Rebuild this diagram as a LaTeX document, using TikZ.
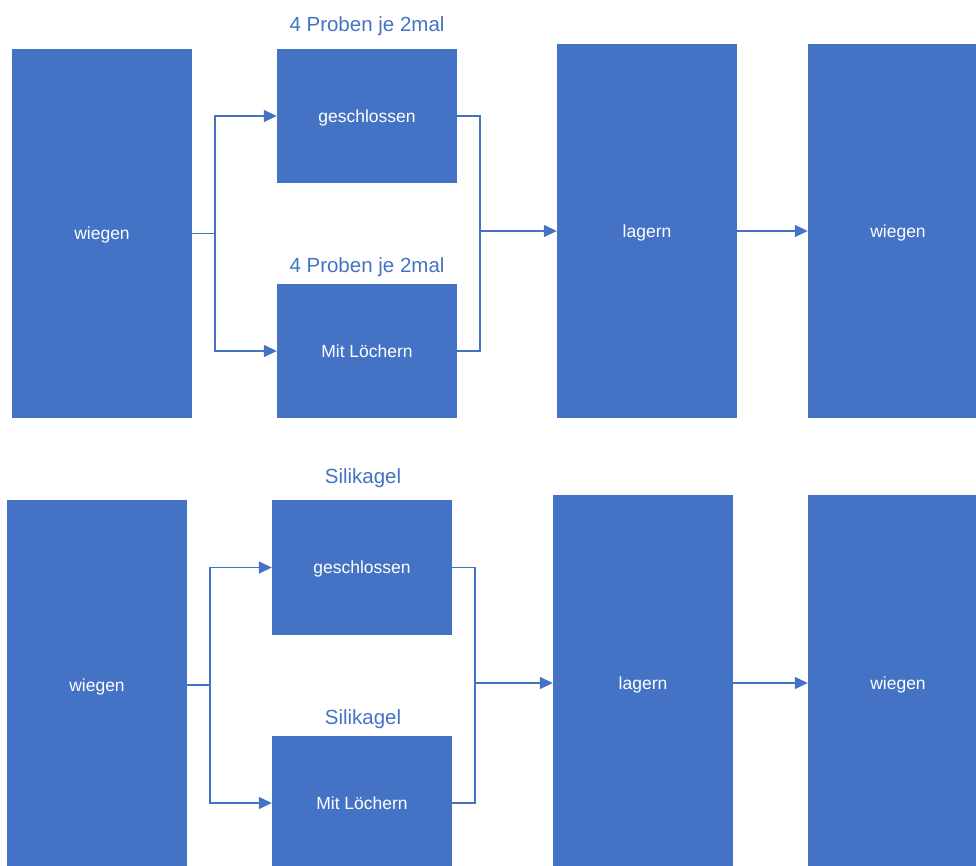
\documentclass[tikz,border=0pt]{standalone}
\usepackage{fontspec}
\setmainfont{Liberation Sans}
\usetikzlibrary{arrows.meta}
\definecolor{ofblue}{RGB}{68,114,196}
\tikzset{
  box/.style={draw=none, fill=ofblue, text=white, minimum width=180pt, inner sep=0pt, text height=12.6pt, text depth=0pt, font=\fontsize{17.5}{20}\selectfont},
  lbl/.style={text=ofblue, inner sep=0pt, text height=14.8pt, text depth=0pt, font=\fontsize{20.5}{24}\selectfont},
  conn/.style={draw=ofblue, line width=1.5pt},
  arr/.style={conn, -{Triangle[length=13pt,width=12pt]}}
}
\begin{document}
\begin{tikzpicture}[x=1pt,y=-1pt]
\useasboundingbox (0,0) rectangle (976,865);
\clip (0,0) rectangle (976,865);
% top row
\node[box, minimum height=369pt] (w1) at (102,233.5) {wiegen};
\node[box, minimum height=134pt] (g1) at (367,116) {geschlossen};
\node[box, minimum height=134pt] (m1) at (367,351) {Mit Löchern};
\node[box, minimum height=374pt] (l1) at (647,231) {lagern};
\node[box, minimum height=374pt] (r1) at (898,231) {wiegen};
\node[lbl] (t1) at (367,24) {4 Proben je 2mal};
\node[lbl] (t2) at (367,265) {4 Proben je 2mal};
\coordinate (s1) at (215,233.5);
\coordinate (j1) at (480,231);
\draw[conn] (w1.east) -- (s1);
\draw[arr] (s1) |- (g1.west);
\draw[arr] (s1) |- (m1.west);
\draw[conn] (g1.east) -| (j1);
\draw[conn] (m1.east) -| (j1);
\draw[arr] (j1) -- (l1.west);
\draw[arr] (l1.east) -- (r1.west);
% bottom row
\node[box, minimum height=370pt] (w2) at (97,685) {wiegen};
\node[box, minimum height=135pt] (g2) at (362,567.5) {geschlossen};
\node[box, minimum height=134pt] (m2) at (362,803) {Mit Löchern};
\node[box, minimum height=376pt] (l2) at (643,683) {lagern};
\node[box, minimum height=376pt] (r2) at (898,683) {wiegen};
\node[lbl] (t3) at (363,476) {Silikagel};
\node[lbl] (t4) at (363,717) {Silikagel};
\coordinate (s2) at (210,685);
\coordinate (j2) at (475,683);
\draw[conn] (w2.east) -- (s2);
\draw[arr] (s2) |- (g2.west);
\draw[arr] (s2) |- (m2.west);
\draw[conn] (g2.east) -| (j2);
\draw[conn] (m2.east) -| (j2);
\draw[arr] (j2) -- (l2.west);
\draw[arr] (l2.east) -- (r2.west);
\end{tikzpicture}
\end{document}
